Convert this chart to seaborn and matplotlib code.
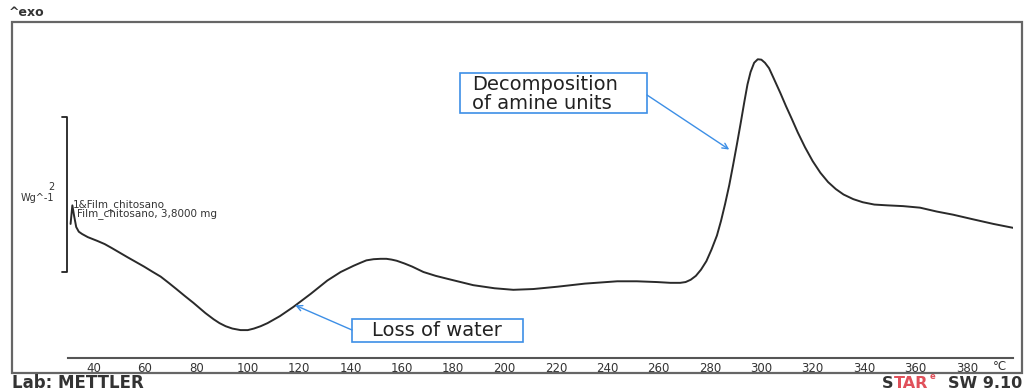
import matplotlib
matplotlib.use("Agg")
import matplotlib.pyplot as plt
import seaborn as sns
import pandas as pd
from matplotlib.patches import Rectangle
from matplotlib.transforms import blended_transform_factory

# ---------------- data ----------------
temperature_c = [31.0, 31.7, 32.4, 33.2, 34.2, 35.5, 37.7, 41.5, 44.3, 47.0,
                 50.1, 53.2, 56.4, 59.6, 62.8, 66.1, 69.2, 72.2, 75.5, 78.9,
                 83.5, 86.7, 89.0, 91.4, 94.0, 97.2, 100.0, 102.4, 105.0, 107.7,
                 112.5, 117.8, 124.6, 131.0, 136.2, 141.2, 144.0, 146.2, 149.0, 151.7,
                 154.0, 156.0, 158.0, 161.0, 164.0, 168.4, 173.2, 178.0, 182.9, 187.8,
                 196.1, 203.4, 211.2, 220.6, 231.3, 243.9, 251.5, 259.4, 264.6, 268.4,
                 270.5, 272.5, 274.5, 276.5, 278.6, 280.6, 282.7, 284.3, 285.9, 287.5,
                 289.0, 290.5, 292.0, 293.4, 294.6, 295.8, 297.2, 298.6, 300.0, 301.4,
                 303.0, 304.8, 307.4, 309.6, 311.8, 314.2, 317.0, 320.0, 323.0, 326.0,
                 329.0, 332.0, 335.8, 339.5, 344.0, 349.0, 355.2, 361.8, 368.3, 374.6,
                 382.4, 390.4, 398.0]
heat_flow_wg = [0.62, 0.86, 0.72, 0.58, 0.52, 0.49, 0.45, 0.40, 0.36, 0.31,
                0.25, 0.19, 0.13, 0.07, 0.005, -0.06, -0.14, -0.22, -0.31, -0.40,
                -0.53, -0.61, -0.66, -0.70, -0.73, -0.75, -0.75, -0.73, -0.70, -0.66,
                -0.57, -0.45, -0.28, -0.11, 0.00, 0.08, 0.12, 0.15, 0.165, 0.17,
                0.17, 0.16, 0.145, 0.11, 0.07, 0.00, -0.05, -0.09, -0.13, -0.17,
                -0.21, -0.23, -0.22, -0.19, -0.15, -0.12, -0.12, -0.13, -0.14, -0.14,
                -0.13, -0.10, -0.05, 0.03, 0.14, 0.29, 0.47, 0.66, 0.88, 1.12,
                1.38, 1.65, 1.93, 2.20, 2.42, 2.58, 2.70, 2.745, 2.74, 2.70,
                2.63, 2.50, 2.31, 2.14, 1.98, 1.80, 1.61, 1.43, 1.28, 1.16,
                1.07, 1.00, 0.94, 0.90, 0.87, 0.86, 0.85, 0.83, 0.78, 0.74,
                0.68, 0.62, 0.57]
major_ticks = list(range(40, 381, 20))
minor_ticks = list(range(30, 391, 10))
tick_labels = [str(t) for t in major_ticks]
unit_label = "°C"
scale_bar_wg = 2
scale_label = "Wg^-1"
sample_lines = ["1&Film_chitosano", "Film_chitosano, 3,8000 mg"]
annot_decomp = "Decomposition\nof amine units"
annot_water = "Loss of water"
exo_label = "^exo"
lab_label = "Lab: METTLER"

# ---------------- style ----------------
sns.set_style("white")
plt.rcParams['font.family'] = ['DejaVu Sans']

W, H = 1024, 390
fig = plt.figure(figsize=(W / 100, H / 100), dpi=100)
fig.patch.set_facecolor("white")


def fx(px):
    return px / W


def fy(py):
    return 1 - py / H


GRAY = "#555555"
TXT = "#333333"
BLUE = "#3d8fe6"

# main axes: x axis line at pixel y=358, from x=68 to x=1013
ax = fig.add_axes([fx(68), fy(358), fx(1013) - fx(68), fy(22) - fy(358)])
ax.patch.set_visible(False)
df = pd.DataFrame({"T": temperature_c, "HF": heat_flow_wg})
sns.lineplot(data=df, x="T", y="HF", ax=ax, color="#2a2a2a", linewidth=1.4,
             estimator=None, sort=False)
ax.set_xlim(30.3, 398.0)
ax.set_ylim(-1.11, 3.226)
for s in ["left", "right", "top"]:
    ax.spines[s].set_visible(False)
ax.spines["bottom"].set_color(GRAY)
ax.spines["bottom"].set_linewidth(1.5)
ax.set_xticks(major_ticks)
ax.set_xticklabels(tick_labels)
ax.set_xticks(minor_ticks, minor=True)
ax.tick_params(axis="x", which="major", direction="in", length=4, width=1,
               color=GRAY, labelsize=8.5, labelcolor=TXT, pad=3)
ax.tick_params(axis="x", which="minor", direction="in", length=3, width=1,
               color=GRAY)
ax.set_yticks([])
ax.set_xlabel("")
ax.set_ylabel("")

# overlay in pixel coordinates
ov = fig.add_axes([0, 0, 1, 1])
ov.set_xlim(0, W)
ov.set_ylim(H, 0)
ov.axis("off")
ov.patch.set_visible(False)

# outer frame
ov.add_patch(Rectangle((12, 22), 1010, 351, fill=False, ec="#666666", lw=1.6))

# unit label
ov.text(1000, 367, unit_label, ha="center", va="center", fontsize=8.5, color=TXT)

# scale bar (2 W/g) : x in pixels, y in data units
bt = blended_transform_factory(ov.transData, ax.transData)
ov.plot([62, 67, 67, 62], [scale_bar_wg, scale_bar_wg, 0, 0], color="#222222",
        lw=1.3, transform=bt, clip_on=False)
ov.text(37, 198, scale_label, ha="center", va="center", fontsize=7, color=TXT)
ov.text(51, 187, str(scale_bar_wg), ha="center", va="center", fontsize=7, color=TXT)

# sample text
ov.text(73, 205, sample_lines[0], ha="left", va="center", fontsize=7.5, color=TXT)
ov.text(77, 214, sample_lines[1], ha="left", va="center", fontsize=7.5, color=TXT)

# exo label
ov.text(9, 13, exo_label, ha="left", va="center", fontsize=9, fontweight="bold",
        color=TXT)

# annotation boxes
ov.add_patch(Rectangle((460, 73), 187, 40, fill=False, ec=BLUE, lw=1.2))
ov.text(472, 94, annot_decomp, ha="left", va="center", fontsize=14,
        color="#222222", linespacing=0.95)
ov.annotate("", xy=(287.5, 1.58), xycoords=ax.transData, xytext=(647, 95),
            textcoords="data",
            arrowprops=dict(arrowstyle="->", color=BLUE, lw=1.0,
                            shrinkA=0, shrinkB=0))

ov.add_patch(Rectangle((352, 319), 171, 23, fill=False, ec=BLUE, lw=1.2))
ov.text(437, 331, annot_water, ha="center", va="center", fontsize=14,
        color="#222222")
ov.annotate("", xy=(118.5, -0.43), xycoords=ax.transData, xytext=(352, 330),
            textcoords="data",
            arrowprops=dict(arrowstyle="->", color=BLUE, lw=1.0,
                            shrinkA=0, shrinkB=0))

# bottom texts
ov.text(12, 383, lab_label, ha="left", va="center", fontsize=12,
        fontweight="bold", color=TXT)
t1 = ov.text(882, 383, "S", ha="left", va="center", fontsize=11.5,
             fontweight="bold", color=TXT)
t2 = ov.annotate("TAR", xy=(1, 0.5), xycoords=t1, ha="left", va="center",
                 fontsize=11.5, fontweight="bold", color="#e0505a")
t3 = ov.annotate("e", xy=(1, 0.95), xycoords=t2, xytext=(1, 0),
                 textcoords="offset points", ha="left", va="center",
                 fontsize=6, fontweight="bold", color="#e0505a")
ov.text(1022, 383, "SW 9.10", ha="right", va="center", fontsize=11.5,
        fontweight="bold", color=TXT)

fig.savefig("out.png", dpi=100, facecolor="white")
